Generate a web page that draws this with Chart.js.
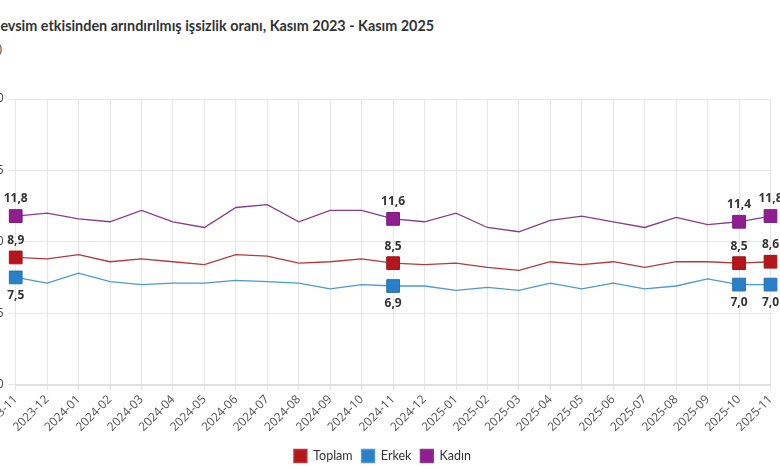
<!DOCTYPE html>
<html>
<head>
<meta charset="utf-8">
<script src="https://cdn.jsdelivr.net/npm/chart.js@4.4.1/dist/chart.umd.min.js"></script>
<style>
  html, body { margin: 0; padding: 0; width: 780px; height: 470px; overflow: hidden; background: #fff; }
  #title { position: absolute; left: -13px; top: 17px; font: bold 14.4px Lato, sans-serif; color: #333; white-space: nowrap; }
  #unit { position: absolute; left: -15px; top: 40px; font: 12px "Open Sans", sans-serif; color: #444; }
  #wrap { position: absolute; left: -40px; top: 0; width: 850px; height: 470px; }
</style>
</head>
<body>
<div id="title">Mevsim etkisinden arındırılmış işsizlik oranı, Kasım 2023 - Kasım 2025</div>
<div id="unit">(%)</div>
<div id="wrap"><canvas id="myChart"></canvas></div>
<script>
const months = ["2023-11", "2023-12", "2024-01", "2024-02", "2024-03", "2024-04", "2024-05",
  "2024-06", "2024-07", "2024-08", "2024-09", "2024-10", "2024-11", "2024-12", "2025-01",
  "2025-02", "2025-03", "2025-04", "2025-05", "2025-06", "2025-07", "2025-08", "2025-09",
  "2025-10", "2025-11"];

const toplam = [8.9, 8.8, 9.1, 8.6, 8.8, 8.6, 8.4, 9.1, 9.0, 8.5, 8.6, 8.8, 8.5,
  8.4, 8.5, 8.2, 8.0, 8.6, 8.4, 8.6, 8.2, 8.6, 8.6, 8.5, 8.6];
const erkek = [7.5, 7.1, 7.8, 7.2, 7.0, 7.1, 7.1, 7.3, 7.2, 7.1, 6.7, 7.0, 6.9,
  6.9, 6.6, 6.8, 6.6, 7.1, 6.7, 7.1, 6.7, 6.9, 7.4, 7.0, 7.0];
const kadin = [11.8, 12.0, 11.6, 11.4, 12.2, 11.4, 11.0, 12.4, 12.6, 11.4, 12.2, 12.2, 11.6,
  11.4, 12.0, 11.0, 10.7, 11.5, 11.8, 11.4, 11.0, 11.7, 11.2, 11.4, 11.8];

// points that get a square marker and a value label
const marked = [0, 12, 23, 24];

const yMin = 0;
const yMax = 20;
const yStep = 5;

function markRadius(c) {
  return marked.includes(c.dataIndex) ? 9 : 0;
}

// value labels for the marked points (Turkish decimal comma)
const valueLabels = {
  id: "valueLabels",
  afterDatasetsDraw(chart) {
    const c = chart.ctx;
    c.save();
    c.font = "bold 12px 'Open Sans', sans-serif";
    c.fillStyle = "#333";
    c.textAlign = "center";
    c.textBaseline = "middle";
    chart.data.datasets.forEach((ds, i) => {
      const meta = chart.getDatasetMeta(i);
      marked.forEach((idx) => {
        const pt = meta.data[idx];
        const txt = ds.data[idx].toFixed(1).replace(".", ",");
        const dy = ds.label === "Erkek" ? 18 : -17;
        c.fillText(txt, pt.x, pt.y + dy);
      });
    });
    c.restore();
  },
};

const ctx = document.getElementById("myChart");

new Chart(ctx, {
  type: "line",
  data: {
    labels: months,
    datasets: [
      {
        label: "Toplam",
        data: toplam,
        borderColor: "#b5393c",
        backgroundColor: "#b5161c",
        borderWidth: 1.3,
        pointStyle: "rect",
        pointRadius: markRadius,
        pointHoverRadius: markRadius,
        pointBackgroundColor: "#b5161c",
        pointBorderColor: "#a01418",
        pointBorderWidth: 1,
      },
      {
        label: "Erkek",
        data: erkek,
        borderColor: "#4a9ad0",
        backgroundColor: "#2a80c8",
        borderWidth: 1.3,
        pointStyle: "rect",
        pointRadius: markRadius,
        pointHoverRadius: markRadius,
        pointBackgroundColor: "#2a80c8",
        pointBorderColor: "#2470b0",
        pointBorderWidth: 1,
      },
      {
        label: "Kadın",
        data: kadin,
        borderColor: "#8c3a8c",
        backgroundColor: "#911e91",
        borderWidth: 1.3,
        pointStyle: "rect",
        pointRadius: markRadius,
        pointHoverRadius: markRadius,
        pointBackgroundColor: "#911e91",
        pointBorderColor: "#7a187a",
        pointBorderWidth: 1,
      },
    ],
  },
  options: {
    responsive: true,
    maintainAspectRatio: false,
    animation: false,
    layout: {
      padding: { left: 34.5, right: 39.5, top: 99, bottom: -2.5 },
    },
    plugins: {
      legend: {
        position: "bottom",
        labels: {
          boxWidth: 13,
          boxHeight: 13,
          padding: 9,
          color: "#333",
          font: { size: 12.5, family: "Lato, sans-serif" },
        },
      },
      tooltip: { enabled: false },
    },
    scales: {
      x: {
        offset: false,
        grid: { color: "#e6e6e6", tickLength: 6 },
        border: { color: "#e0e0e0", width: 2 },
        ticks: {
          color: "#555",
          maxRotation: 45,
          minRotation: 45,
          autoSkip: false,
          padding: 2,
          font: { size: 12, family: "'Open Sans', sans-serif" },
        },
        afterFit(scale) {
          scale.height = 56;
        },
      },
      y: {
        min: yMin,
        max: yMax,
        ticks: {
          stepSize: yStep,
          color: "#444",
          padding: 4,
          font: { size: 12, family: "'Open Sans', sans-serif" },
        },
        grid: { color: "#e6e6e6", tickLength: 8 },
        border: { display: false },
        afterFit(scale) {
          scale.width = 21.2;
        },
      },
    },
  },
  plugins: [valueLabels],
});
</script>
</body>
</html>
